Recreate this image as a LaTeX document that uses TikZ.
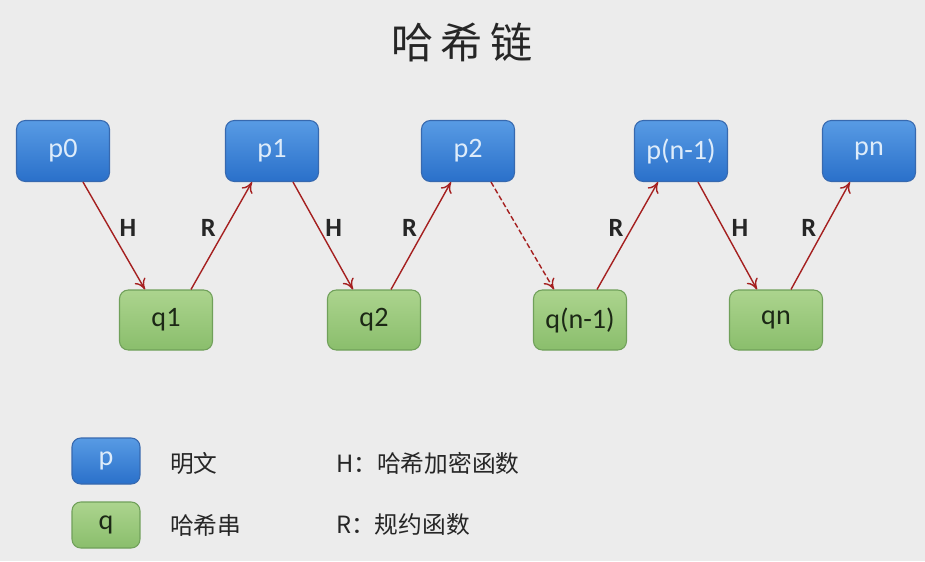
\documentclass[tikz,border=0pt]{standalone}
\usepackage{fontspec}
\setmainfont{Carlito}
\newfontfamily\cjk{Noto Sans CJK SC}
\usepackage{xcolor}
\usetikzlibrary{arrows.meta,positioning}
\definecolor{bggray}{RGB}{236,236,236}
\definecolor{ptop}{RGB}{88,155,228}
\definecolor{pbot}{RGB}{42,112,202}
\definecolor{pborder}{RGB}{55,105,175}
\definecolor{ptext}{RGB}{222,236,250}
\definecolor{qtop}{RGB}{172,212,142}
\definecolor{qbot}{RGB}{138,190,108}
\definecolor{qborder}{RGB}{112,160,90}
\definecolor{qtext}{RGB}{28,40,22}
\definecolor{arrred}{RGB}{165,32,32}

\begin{document}
\begin{tikzpicture}[
  x=0.02cm, y=-0.02cm,
  every node/.style={font=\fontsize{16}{18}\selectfont},
  pnode/.style={rectangle, rounded corners=5pt, minimum width=1.86cm,
    minimum height=1.22cm, text centered, draw=pborder, line width=0.6pt,
    top color=ptop, bottom color=pbot, text=ptext},
  qnode/.style={rectangle, rounded corners=5pt, minimum width=1.86cm,
    minimum height=1.2cm, text centered, draw=qborder, line width=0.6pt,
    top color=qtop, bottom color=qbot, text=qtext},
  legbox/.style={minimum width=1.36cm, minimum height=0.92cm},
  legtext/.style={anchor=west, font=\cjk\fontsize{13.5}{15}\selectfont, text=black!85},
  arr/.style={-{To[length=6pt,width=7pt]}, line width=0.8pt, draw=arrred},
  lbl/.style={font=\bfseries\fontsize{15}{17}\selectfont, text=black!85},
]
  % Background
  \fill[bggray] (0,0) rectangle (925,561);
  \useasboundingbox (0,0) rectangle (925,561);

  % Title
  \node[font=\cjk\fontsize{24}{26}\selectfont, text=black!85] (title) at (462,42)
    {哈\hspace{4pt}希\hspace{4pt}链};

  % Nodes
  \node[pnode] (p0) at (63,151) {p0};
  \node[pnode] (p1) at (272,151) {p1};
  \node[pnode] (p2) at (468,151) {p2};
  \node[pnode] (pn1) at (681,151) {p(n-1)};
  \node[pnode] (pn) at (869,151) {pn};
  \node[qnode] (q1) at (166,320) {q1};
  \node[qnode] (q2) at (374,320) {q2};
  \node[qnode] (qn1) at (580,320) {q(n-1)};
  \node[qnode] (qn) at (776,320) {qn};

  % Edges
  \draw[arr] ([xshift=0.4cm]p0.south) -- node[lbl, pos=0.43, right=2pt] {H} ([xshift=-0.42cm]q1.north);
  \draw[arr] ([xshift=0.5cm]q1.north) -- node[lbl, pos=0.57, left=2pt] {R} ([xshift=-0.4cm]p1.south);
  \draw[arr] ([xshift=0.42cm]p1.south) -- node[lbl, pos=0.43, right=0pt] {H} ([xshift=-0.42cm]q2.north);
  \draw[arr] ([xshift=0.34cm]q2.north) -- node[lbl, pos=0.57, left=1pt] {R} ([xshift=-0.34cm]p2.south);
  \draw[arr, dashed, dash pattern=on 3pt off 1.5pt] ([xshift=0.46cm]p2.south) -- ([xshift=-0.52cm]qn1.north);
  \draw[arr] ([xshift=0.34cm]qn1.north) -- node[lbl, pos=0.57, left=1pt] {R} ([xshift=-0.46cm]pn1.south);
  \draw[arr] ([xshift=0.34cm]pn1.south) -- node[lbl, pos=0.43, right=1pt] {H} ([xshift=-0.38cm]qn.north);
  \draw[arr] ([xshift=0.3cm]qn.north) -- node[lbl, pos=0.57, left=1pt] {R} ([xshift=-0.38cm]pn.south);

  % Legend
  \node[pnode, legbox] (legp) at (106,461) {p};
  \node[qnode, legbox] (legq) at (106,525) {q};
  \node[legtext] (txtp) at (164,463) {明文};
  \node[legtext] (txtq) at (164,525) {哈希串};
  \node[legtext] (txth) at (330,463) {H：哈希加密函数};
  \node[legtext] (txtr) at (330,525) {R：规约函数};
\end{tikzpicture}
\end{document}
